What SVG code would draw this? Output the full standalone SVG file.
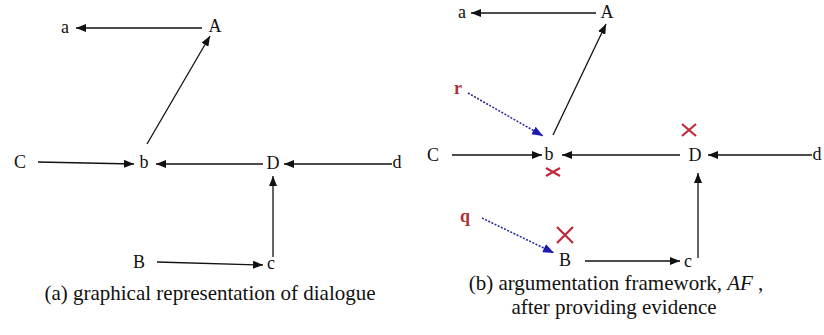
<svg xmlns="http://www.w3.org/2000/svg" width="824" height="335" viewBox="0 0 824 335">
<style>
.n{font-family:"Liberation Serif","Times New Roman",serif;font-size:18px;fill:#111;text-anchor:middle;dominant-baseline:central}
.r{fill:#b0303a;font-weight:bold}
.cap{font-family:"Liberation Serif","Times New Roman",serif;font-size:21px;fill:#111;text-anchor:middle}
.e{stroke:#111;stroke-width:1.3;fill:none;marker-end:url(#ah)}
.dt{stroke:#2a2a9a;stroke-width:1.6;stroke-dasharray:2 1.5;fill:none;marker-end:url(#bh)}
.x{stroke:#c0283a;stroke-width:2.2;fill:none}
</style>
<defs>
<marker id="ah" viewBox="0 0 10 8" refX="10" refY="4" markerWidth="10" markerHeight="8" markerUnits="userSpaceOnUse" orient="auto"><path d="M0,0 L10,4 L0,8 Z" fill="#111"/></marker>
<marker id="bh" viewBox="0 0 10 8" refX="10" refY="4" markerWidth="11" markerHeight="9" markerUnits="userSpaceOnUse" orient="auto"><path d="M0,0 L10,4 L0,8 Z" fill="#1a1ab0"/></marker>
</defs>
<rect width="824" height="335" fill="#fff"/>
<g id="connectors">
<line class="e" x1="202" y1="28" x2="76" y2="28"/>
<line class="e" x1="147" y1="144" x2="210" y2="36"/>
<line class="e" x1="38" y1="162" x2="134" y2="164"/>
<line class="e" x1="263" y1="164" x2="156" y2="164"/>
<line class="e" x1="392" y1="164" x2="284" y2="164"/>
<line class="e" x1="273" y1="257" x2="273" y2="176"/>
<line class="e" x1="157" y1="262" x2="263" y2="265"/>
<line class="e" x1="596" y1="13" x2="471" y2="13"/>
<line class="e" x1="553" y1="135" x2="606" y2="24"/>
<line class="e" x1="452" y1="155" x2="542" y2="155"/>
<line class="e" x1="680" y1="155" x2="562" y2="155"/>
<line class="e" x1="812" y1="155" x2="708" y2="155"/>
<line class="e" x1="698" y1="258" x2="698" y2="173"/>
<line class="e" x1="585" y1="261" x2="680" y2="261"/>
<line class="dt" x1="468" y1="93" x2="543" y2="136"/>
<line class="dt" x1="482" y1="218" x2="554" y2="253"/>
</g>
<g id="left-a"><text class="n" x="65" y="27">a</text></g>
<g id="left-A"><text class="n" x="215" y="26">A</text></g>
<g id="left-C"><text class="n" x="20" y="162">C</text></g>
<g id="left-b"><text class="n" x="144" y="162">b</text></g>
<g id="left-D"><text class="n" x="273" y="163">D</text></g>
<g id="left-d"><text class="n" x="397" y="162">d</text></g>
<g id="left-B"><text class="n" x="139" y="262">B</text></g>
<g id="left-c"><text class="n" x="271" y="263">c</text></g>
<g id="right-a"><text class="n" x="462" y="12">a</text></g>
<g id="right-A"><text class="n" x="607" y="12">A</text></g>
<g id="right-r"><text class="n r" x="458" y="88">r</text></g>
<g id="right-C"><text class="n" x="433" y="155">C</text></g>
<g id="right-b"><text class="n" x="549" y="154">b</text></g>
<g id="right-D"><text class="n" x="695" y="155">D</text></g>
<g id="right-d"><text class="n" x="817" y="154">d</text></g>
<g id="right-q"><text class="n r" x="465" y="216">q</text></g>
<g id="right-B"><text class="n" x="565" y="260">B</text></g>
<g id="right-c"><text class="n" x="688" y="261">c</text></g>
<g id="crosses">
<path class="x" d="M682,124 L696,136 M696,124 L682,136"/>
<path class="x" d="M546,168 L560,176 M560,168 L546,176"/>
<path class="x" d="M557,227 L573,243 M573,227 L557,243"/>
</g>
<g id="captions">
<text class="cap" x="210" y="300">(a) graphical representation of dialogue</text>
<text class="cap" x="616" y="290">(b) argumentation framework, <tspan font-style="italic">AF</tspan> ,</text>
<text class="cap" x="614" y="314">after providing evidence</text>
</g>
</svg>
